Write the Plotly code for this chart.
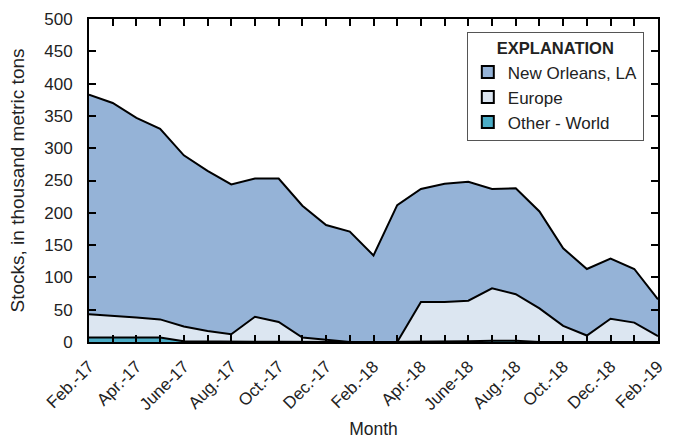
import plotly.graph_objects as go

months = ["Feb.-17", "Mar.-17", "Apr.-17", "May-17", "June-17", "July-17", "Aug.-17", "Sep.-17",
          "Oct.-17", "Nov.-17", "Dec.-17", "Jan.-18", "Feb.-18", "Mar.-18", "Apr.-18", "May-18",
          "June-18", "July-18", "Aug.-18", "Sep.-18", "Oct.-18", "Nov.-18", "Dec.-18", "Jan.-19", "Feb.-19"]
tick_labels = ["Feb.-17", "", "Apr.-17", "", "June-17", "", "Aug.-17", "", "Oct.-17", "", "Dec.-17", "",
               "Feb.-18", "", "Apr.-18", "", "June-18", "", "Aug.-18", "", "Oct.-18", "", "Dec.-18", "", "Feb.-19"]

other_world = [7, 7, 7, 7, 1, 0.5, 0.5, 0.5, 0.5, 0, 0, 0, 0, 0, 0, 0, 1, 2, 2, 0, 0, 0, 0, 0, 0]
europe = [36, 34, 31, 28, 23, 16.5, 11.5, 38.5, 30.5, 7, 3, 0, 0, 0, 62, 62, 63, 81, 72, 52, 25, 10, 36, 30, 9]
new_orleans = [340, 329, 309, 295, 265, 248, 232, 214, 222, 204, 178, 171, 134, 212, 175, 183, 184, 154,
               164, 150, 120, 103, 93, 83, 57]

y_ticks = [0, 50, 100, 150, 200, 250, 300, 350, 400, 450, 500]

FONT = "Liberation Sans, Arial, sans-serif"
colors = {"New Orleans, LA": "#95b3d7", "Europe": "#dce6f1", "Other - World": "#4bacc6"}

fig = go.Figure()
for name, vals in [("Other - World", other_world), ("Europe", europe), ("New Orleans, LA", new_orleans)]:
    fig.add_trace(go.Scatter(
        x=months, y=vals, mode="lines", stackgroup="one", name=name,
        line=dict(color="black", width=2), fillcolor=colors[name], showlegend=False,
    ))

for name in ["New Orleans, LA", "Europe", "Other - World"]:
    fig.add_trace(go.Scatter(
        x=[None], y=[None], mode="markers", name=name, legendgroup=name,
        marker=dict(symbol="square", size=10, color=colors[name], line=dict(color="black", width=1.5)),
    ))

axis_common = dict(showline=True, linecolor="black", linewidth=2, mirror="allticks", ticks="inside",
                   ticklen=7, tickwidth=2, tickcolor="black", showgrid=False, zeroline=False,
                   layer="above traces", automargin=False,
                   tickfont=dict(family=FONT, size=17, color="#222"))

fig.update_xaxes(type="category", categoryorder="array", categoryarray=months,
                 tickmode="array", tickvals=months, ticktext=tick_labels, tickangle=-45,
                 range=[0, len(months) - 1], ticklabelstandoff=6,
                 title=dict(text="Month", font=dict(family=FONT, size=17.5, color="#222")),
                 **axis_common)
fig.update_yaxes(range=[0, 500], tickmode="array", tickvals=y_ticks, ticklabelstandoff=11,
                 title=dict(text="Stocks, in thousand metric tons", font=dict(family=FONT, size=19, color="#222")),
                 **axis_common)

fig.update_layout(
    width=673, height=439,
    margin=dict(l=89, r=15, t=19, b=97),
    plot_bgcolor="white", paper_bgcolor="white",
    font=dict(family=FONT, size=17, color="#222"),
    legend=dict(
        x=0.664, y=0.96, xanchor="left", yanchor="top",
        bgcolor="white", bordercolor="#555", borderwidth=1,
        title=dict(text="<b>EXPLANATION</b>", side="top center",
                   font=dict(family=FONT, size=16.5, color="#222")),
        font=dict(family=FONT, size=17, color="#222"),
        traceorder="normal", itemsizing="constant", tracegroupgap=4, entrywidth=140,
    ),
)

fig.write_html("out.html", config={"displayModeBar": False},
               post_script="document.body.style.margin='0';")
